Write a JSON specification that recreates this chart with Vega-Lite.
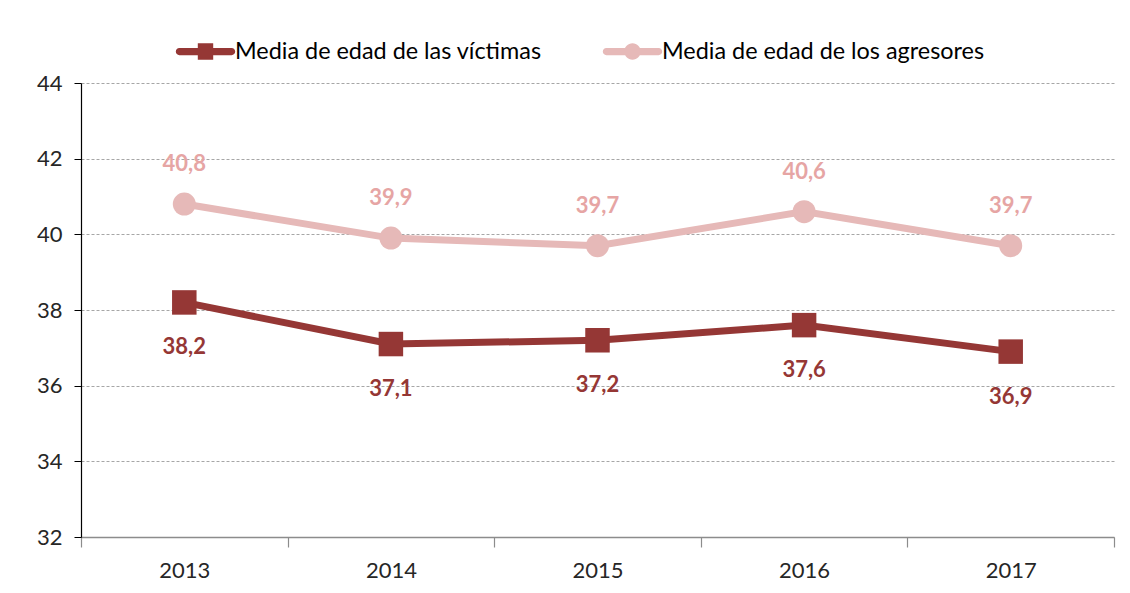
{
  "$schema": "https://vega.github.io/schema/vega-lite/v6.json",
  "width": 1033,
  "height": 454,
  "autosize": {"type": "none"},
  "padding": {"left": 81, "top": 83, "right": 16, "bottom": 56},
  "background": "white",
  "config": {
    "locale": {"number": {"decimal": ",", "thousands": ".", "grouping": [3], "currency": ["", " €"]}},
    "view": {"stroke": null},
    "font": "Lato"
  },
  "data": {
    "values": [
      {"anio": "2013", "serie": "Media de edad de las víctimas", "edad": 38.2},
      {"anio": "2014", "serie": "Media de edad de las víctimas", "edad": 37.1},
      {"anio": "2015", "serie": "Media de edad de las víctimas", "edad": 37.2},
      {"anio": "2016", "serie": "Media de edad de las víctimas", "edad": 37.6},
      {"anio": "2017", "serie": "Media de edad de las víctimas", "edad": 36.9},
      {"anio": "2013", "serie": "Media de edad de los agresores", "edad": 40.8},
      {"anio": "2014", "serie": "Media de edad de los agresores", "edad": 39.9},
      {"anio": "2015", "serie": "Media de edad de los agresores", "edad": 39.7},
      {"anio": "2016", "serie": "Media de edad de los agresores", "edad": 40.6},
      {"anio": "2017", "serie": "Media de edad de los agresores", "edad": 39.7}
    ]
  },
  "encoding": {
    "x": {
      "field": "anio", "type": "ordinal",
      "scale": {"type": "band", "paddingInner": 0, "paddingOuter": 0},
      "axis": {
        "title": null, "labelAngle": 0, "tickBand": "extent", "grid": false,
        "domainColor": "#8c8c8c", "domainWidth": 1.5, "tickColor": "#8c8c8c", "tickWidth": 1.2, "tickSize": 10,
        "labelFontSize": 22, "labelColor": "#262626", "labelPadding": 13
      }
    },
    "y": {
      "field": "edad", "type": "quantitative",
      "scale": {"domain": [32, 44], "nice": false, "zero": false},
      "axis": {
        "title": null, "values": [32, 34, 36, 38, 40, 42, 44], "grid": true,
        "gridColor": "#a6a6a6", "gridDash": [3, 2], "gridWidth": 1,
        "domainColor": "#000000", "domainWidth": 1.2, "tickColor": "#000000", "tickSize": 7,
        "labelFontSize": 22, "labelColor": "#262626", "labelPadding": 12
      }
    }
  },
  "layer": [
    {
      "transform": [{"filter": "datum.serie == 'Media de edad de los agresores'"}],
      "mark": {"type": "line", "color": "#E6B9B8", "strokeWidth": 7}
    },
    {
      "transform": [{"filter": "datum.serie == 'Media de edad de las víctimas'"}],
      "mark": {"type": "line", "color": "#953735", "strokeWidth": 7}
    },
    {
      "transform": [{"filter": "datum.serie == 'Media de edad de los agresores'"}],
      "mark": {"type": "point", "shape": "circle", "filled": true, "size": 529, "color": "#E6B9B8", "opacity": 1}
    },
    {
      "transform": [{"filter": "datum.serie == 'Media de edad de las víctimas'"}],
      "mark": {"type": "point", "shape": "square", "filled": true, "size": 600, "color": "#953735", "opacity": 1}
    },
    {
      "transform": [{"filter": "datum.serie == 'Media de edad de los agresores'"}],
      "mark": {"type": "text", "color": "#E6A5A4", "fontSize": 22, "fontWeight": "bold", "dy": -40},
      "encoding": {"text": {"field": "edad", "type": "quantitative", "format": ".1f"}}
    },
    {
      "transform": [{"filter": "datum.serie == 'Media de edad de las víctimas'"}],
      "mark": {"type": "text", "color": "#953735", "fontSize": 22, "fontWeight": "bold", "dy": 45},
      "encoding": {"text": {"field": "edad", "type": "quantitative", "format": ".1f"}}
    },
    {
      "mark": {"type": "point", "filled": true, "opacity": 0},
      "encoding": {
        "color": {
          "field": "serie", "type": "nominal",
          "scale": {"domain": ["Media de edad de las víctimas", "Media de edad de los agresores"], "range": ["#953735", "#E6B9B8"]},
          "legend": {"orient": "none", "legendX": 97, "legendY": -59, "direction": "horizontal", "title": null,
            "symbolSize": 3025, "labelFontSize": 23.4, "labelLimit": 0, "labelColor": "#000000", "columnPadding": 60, "labelOffset": 2, "symbolOpacity": 1, "symbolStrokeWidth": 0}
        },
        "shape": {
          "field": "serie", "type": "nominal",
          "scale": {"domain": ["Media de edad de las víctimas", "Media de edad de los agresores"],
            "range": [
              "M-0.95,-0.13L0.95,-0.13A0.13,0.13 0 0,1 0.95,0.13L-0.95,0.13A0.13,0.13 0 0,1 -0.95,-0.13Z M-0.28,-0.3L0.28,-0.3L0.28,0.3L-0.28,0.3Z",
              "M-0.95,-0.13L0.95,-0.13A0.13,0.13 0 0,1 0.95,0.13L-0.95,0.13A0.13,0.13 0 0,1 -0.95,-0.13Z M-0.3,0A0.3,0.3 0 1,1 0.3,0A0.3,0.3 0 1,1 -0.3,0Z"
            ]},
          "legend": {"orient": "none", "legendX": 97, "legendY": -59, "direction": "horizontal", "title": null,
            "symbolSize": 3025, "labelFontSize": 23.4, "labelLimit": 0, "labelColor": "#000000", "columnPadding": 60, "labelOffset": 2, "symbolOpacity": 1, "symbolStrokeWidth": 0}
        }
      }
    }
  ]
}
